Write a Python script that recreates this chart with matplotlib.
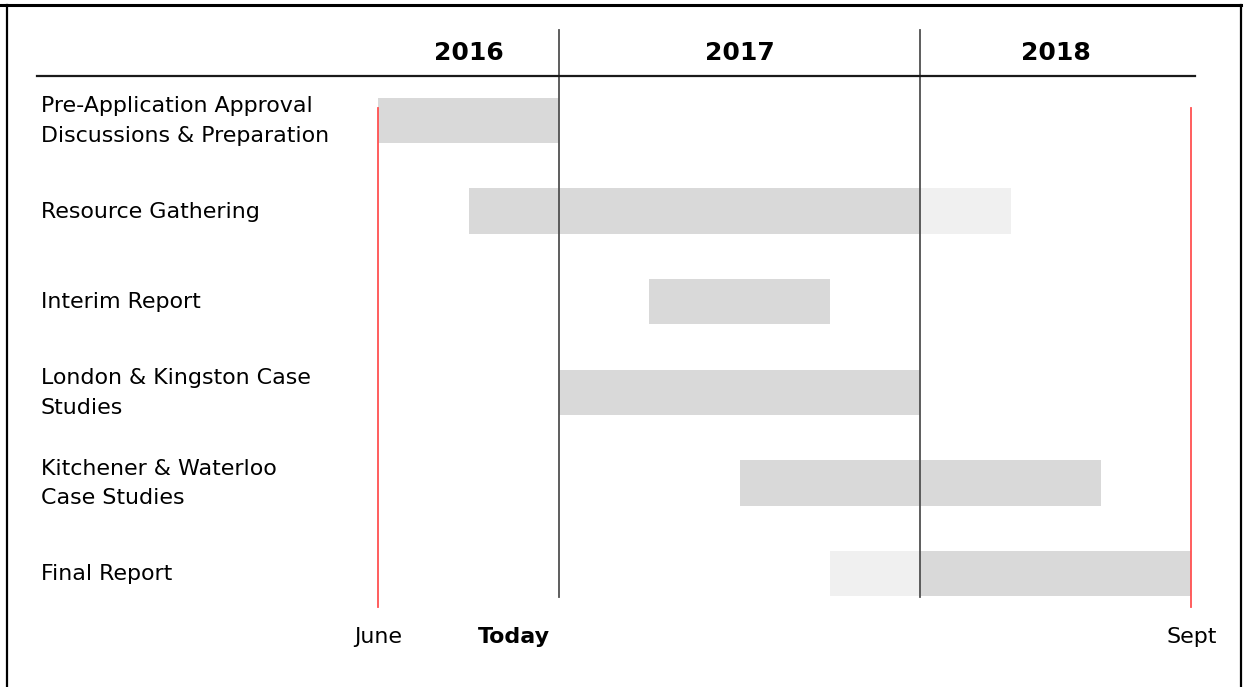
import matplotlib
matplotlib.use("Agg")
import matplotlib.pyplot as plt
from matplotlib.lines import Line2D

# ---- data ----
tasks = [
    "Pre-Application Approval\nDiscussions & Preparation",
    "Resource Gathering",
    "Interim Report",
    "London & Kingston Case\nStudies",
    "Kitchener & Waterloo\nCase Studies",
    "Final Report",
]
# months counted from Jan 2016 = 0
dark_start = [6, 9, 15, 12, 18, 24]
dark_end = [12, 24, 21, 24, 30, 33]
light_rows = [1, 5]
light_start = [24, 21]
light_end = [27, 24]

years = ["2016", "2017", "2018"]
year_bounds = [6, 12, 24, 33]   # June 2016, Jan 2017, Jan 2018, Sept 2018
year_lines = [12, 24]
red_lines = [6, 33]
bottom_labels = ["June", "Today", "Sept"]
bottom_pos = [6, 10.5, 33]
bottom_bold = [False, True, False]

W, H = 1244, 687
fig = plt.figure(figsize=(W / 100, H / 100), dpi=100)
ax = fig.add_axes([0, 0, 1, 1])
ax.axis("off")

ppm = 30.115
px0 = 197.6  # pixel position of month 0
ax.set_xlim(-px0 / ppm, (W - px0) / ppm)
row_h = 90.6
yc0 = 120.5
ax.set_ylim((H - yc0) / row_h, -yc0 / row_h)

def mx(px):
    return (px - px0) / ppm

font = "DejaVu Sans"
dark = "#d9d9d9"
light = "#f0f0f0"

# bars
for i in range(len(tasks)):
    ax.barh(i, dark_end[i] - dark_start[i], left=dark_start[i], height=0.5,
            color=dark, zorder=1)
for r, s, e in zip(light_rows, light_start, light_end):
    ax.barh(r, e - s, left=s, height=0.5, color=light, zorder=1)

# year separators
for x in year_lines:
    ax.plot([x, x], [-1.0, 5.26], color="#505050", lw=1.3, zorder=3)
# red boundary lines
for x in red_lines:
    ax.plot([x, x], [-0.138, 5.37], color="#ff5050", lw=1.3, zorder=3)
# header underline
ax.plot([mx(37), mx(1195)], [-0.491, -0.491], color="#1a1a1a", lw=1.6, zorder=3)

# year labels
for k, y in enumerate(years):
    xm = (year_bounds[k] + year_bounds[k + 1]) / 2
    ax.text(xm, -0.745, y, ha="center", va="center", fontsize=18,
            fontweight="bold", family=font, color="black")

# task labels
xl = mx(41)
for i, t in enumerate(tasks):
    ax.text(xl, i + 0.005, t, ha="left", va="center", fontsize=15.9,
            family=font, color="black", linespacing=1.6)

# bottom labels
for lab, xp, b in zip(bottom_labels, bottom_pos, bottom_bold):
    ax.text(xp, 5.70, lab, ha="center", va="center", fontsize=15.9,
            fontweight="bold" if b else "normal", family=font, color="black")

# outer frame (figure pixels)
tr = fig.transFigure
def fl(xs, ys, lw):
    fig.add_artist(Line2D([x / W for x in xs], [1 - y / H for y in ys],
                          transform=tr, color="black", lw=lw))
fl([0, 1241], [4.5, 4.5], 2.2)
fl([7.5, 7.5], [4.5, 687], 1.6)
fl([1241, 1241], [4.5, 687], 1.6)

fig.savefig("out.png", dpi=100)
